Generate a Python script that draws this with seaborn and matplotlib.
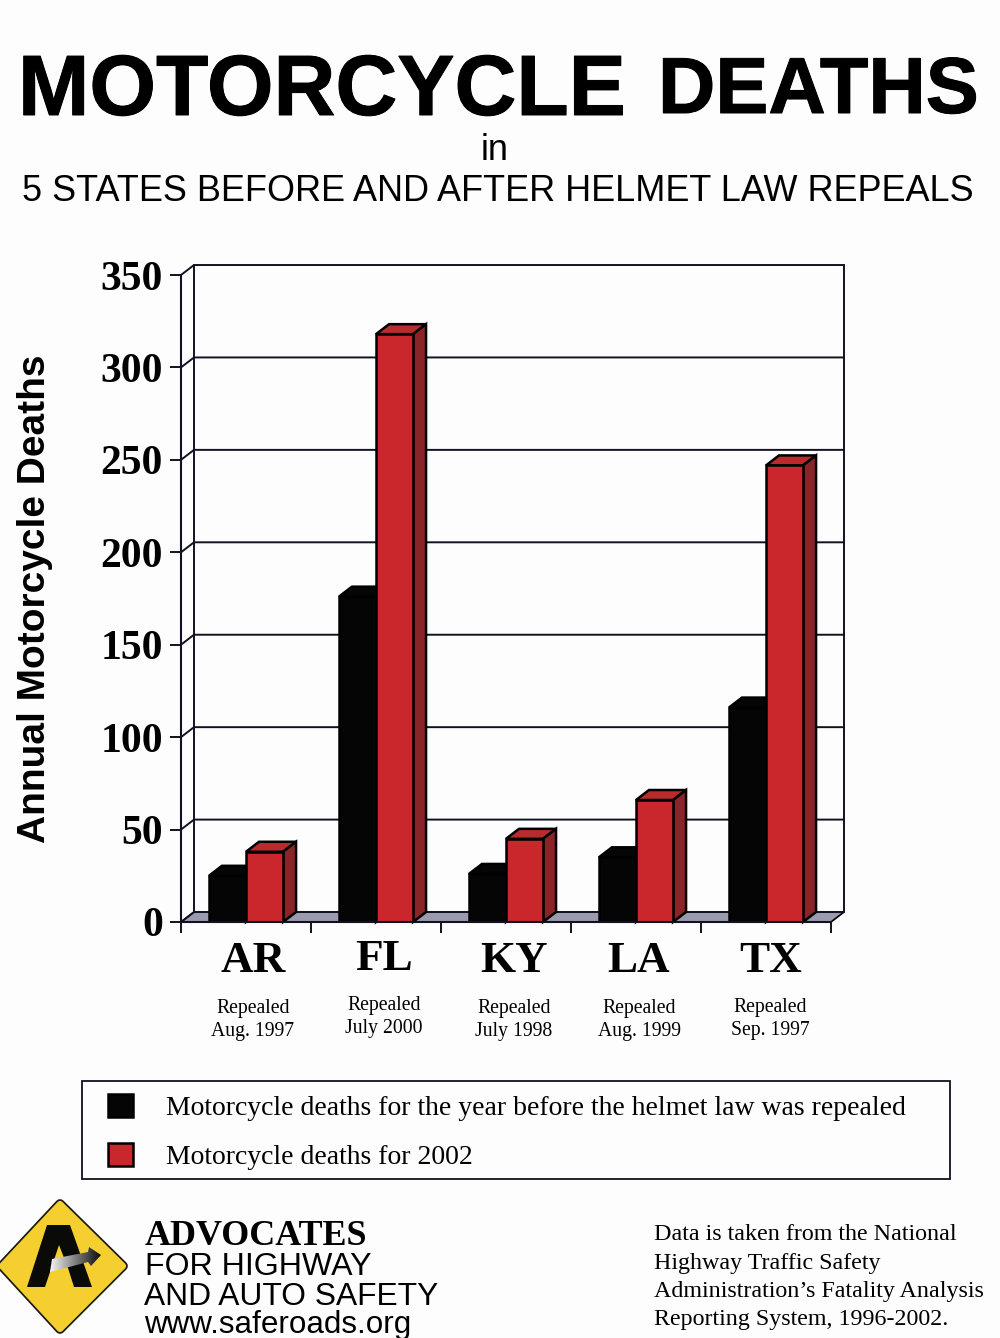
import matplotlib
matplotlib.use('Agg')
import matplotlib.patheffects as pe
import matplotlib.pyplot as plt
import numpy as np
import pandas as pd
import seaborn as sns
from matplotlib.patches import Polygon, Rectangle
from matplotlib.transforms import ScaledTranslation

states = ['AR', 'FL', 'KY', 'LA', 'TX']
repealed = ['Repealed\nAug. 1997', 'Repealed\nJuly 2000', 'Repealed\nJuly 1998',
            'Repealed\nAug. 1999', 'Repealed\nSep. 1997']
before_repeal = [25, 176, 26, 35, 116]
deaths_2002 = [38, 318, 45, 66, 247]
series_names = ['Motorcycle deaths for the year before the helmet law was repealed',
                'Motorcycle deaths for 2002']
y_ticks = [0, 50, 100, 150, 200, 250, 300, 350]

BLACK = '#050505'
RED = '#c9272c'
RED_TOP = '#b82c2e'
RED_SIDE = '#8b2428'
FLOOR = '#9a9cae'
SERIF = 'Liberation Serif'
SANS = 'Liberation Sans'

# depth of the fake 3d look, in data units (13px / 10px on the page)
DX = 0.1
DY = 5.4

sns.set_theme(style='ticks')
plt.rcParams['font.family'] = [SANS, 'DejaVu Sans']

df = pd.DataFrame({
    'state': states * 2,
    'series': [series_names[0]] * 5 + [series_names[1]] * 5,
    'deaths': before_repeal + deaths_2002,
})

fig = plt.figure(figsize=(10, 13.38), dpi=100, facecolor='#fdfdfe')
ax = fig.add_axes([0.181, 1 - 922 / 1338, 0.65, 647 / 1338])
ax.patch.set_alpha(0)

sns.barplot(data=df, x='state', y='deaths', hue='series', palette=[BLACK, RED], saturation=1,
            width=0.57, gap=0, edgecolor='black', linewidth=1.8, ax=ax, zorder=3)
ax.set_xlim(-0.5, 4.5)
ax.set_ylim(0, 350)

# back wall, floor, gridlines
ax.add_patch(Polygon([(-0.5, 0), (4.5, 0), (4.5 + DX, DY), (-0.5 + DX, DY)], closed=True,
                     facecolor=FLOOR, edgecolor='black', lw=1.2, zorder=1, clip_on=False))
for t in y_ticks:
    ax.plot([-0.5, -0.5 + DX, 4.5 + DX], [t, t + DY, t + DY], color='#111122', lw=1.4,
            zorder=1.5, clip_on=False)
ax.plot([-0.5 + DX] * 2, [DY, 350 + DY], color='#111122', lw=1.4, zorder=1.5, clip_on=False)
ax.plot([4.5 + DX] * 2, [DY, 350 + DY], color='#111122', lw=1.4, zorder=1.5, clip_on=False)

# tops and sides on the seaborn bars
for k, container in enumerate(ax.containers):
    top_col = BLACK if k == 0 else RED_TOP
    side_col = BLACK if k == 0 else RED_SIDE
    for bar in container:
        x0, w, h = bar.get_x(), bar.get_width(), bar.get_height()
        bar.set_zorder(3 + 2 * k)
        ax.add_patch(Polygon([(x0, h), (x0 + w, h), (x0 + w + DX, h + DY), (x0 + DX, h + DY)],
                             closed=True, facecolor=top_col, edgecolor='black', lw=1.8,
                             zorder=2.5 + 2 * k, clip_on=False))
        ax.add_patch(Polygon([(x0 + w, 0), (x0 + w + DX, DY), (x0 + w + DX, h + DY), (x0 + w, h)],
                             closed=True, facecolor=side_col, edgecolor='black', lw=1.8,
                             zorder=2.5 + 2 * k, clip_on=False))

sns.despine(ax=ax)
ax.spines['left'].set_linewidth(1.5)
ax.spines['left'].set_color('#111122')
ax.spines['bottom'].set_linewidth(1.5)
ax.spines['bottom'].set_color('#111122')
ax.spines['left'].set_zorder(9)
ax.spines['bottom'].set_zorder(9)

ax.set_yticks(y_ticks)
ax.set_yticklabels(y_ticks, family=SERIF, fontweight='bold', fontsize=30, color='black')
ax.tick_params(axis='y', length=8, width=1.4, pad=5, color='#111122')
ax.set_xticks(range(5), states, family=SERIF, fontweight='bold', fontsize=32.5, color='black')
ax.set_xticks(np.arange(-0.5, 5), minor=True)
ax.tick_params(axis='x', which='major', length=0, pad=14)
ax.tick_params(axis='x', which='minor', length=8, width=1.4, color='#111122')

ax.set_xlabel('')
ax.set_ylabel('Annual Motorcycle Deaths', fontweight='bold', fontsize=28, color='black')
ax.yaxis.set_label_coords(-0.197, 0.5)

# labels sit a bit off centre on the original
label_shift_x = [7, 8, 8, 3, 5]
label_shift_y = [0, 2, 0, 0, 0]
for lab, sx, sy in zip(ax.get_xticklabels(), label_shift_x, label_shift_y):
    lab.set_transform(lab.get_transform() + ScaledTranslation(sx / 100, sy / 100, fig.dpi_scale_trans))

rep_x = [7, 8, 8, 3, 4]
rep_y = [-98, -95, -98, -98, -97]
for i, txt in enumerate(repealed):
    ax.annotate(txt, (i, 0), xytext=(rep_x[i], rep_y[i]), textcoords='offset pixels',
                ha='center', va='center', family=SERIF, fontsize=14.2, color='black',
                linespacing=1.28, annotation_clip=False)

sns.move_legend(ax, 'upper left', bbox_to_anchor=(0.1075, 1 - 1094 / 1338),
                bbox_transform=fig.transFigure, title=None, frameon=False, labelcolor='black',
                prop={'family': SERIF, 'size': 20}, handlelength=0.9, handleheight=0.9,
                handletextpad=1.19, labelspacing=0.8, borderpad=0, borderaxespad=0)

# page layer in pixel coordinates for titles, legend box and logo
page = fig.add_axes([0, 0, 1, 1], zorder=-1)
page.set_xlim(0, 1000)
page.set_ylim(1338, 0)
page.axis('off')

heavy = [pe.withStroke(linewidth=0.7, foreground='black')]
page.text(18, 115, 'MOTORCYCLE', fontweight='bold', fontsize=61.7, va='baseline', color='black',
          path_effects=heavy)
page.text(658, 113, 'DEATHS', fontweight='bold', fontsize=57.2, va='baseline', color='black',
          path_effects=heavy)
page.text(495, 160, 'in', fontsize=26, ha='center', va='baseline', color='black')
page.text(498, 201, '5 STATES BEFORE AND AFTER HELMET LAW REPEALS', fontsize=25.9, ha='center',
          va='baseline', color='black')

page.add_patch(Rectangle((82, 1081), 868, 98, facecolor='none', edgecolor='#111122', lw=1.3))

# logo
diamond = [(60, 1204), (123, 1266), (60, 1329), (2, 1266)]
page.add_patch(Polygon(diamond, closed=True, facecolor='#1a1a12', edgecolor='#1a1a12', lw=7,
                       joinstyle='round'))
page.add_patch(Polygon(diamond, closed=True, facecolor='#f4cf2f', edgecolor='#f4cf2f', lw=4.5,
                       joinstyle='round'))
page.add_patch(Polygon([(27, 1287), (47, 1225), (70, 1225), (92, 1287), (74, 1287), (68, 1268),
                        (59, 1245), (50, 1272), (45, 1287)], closed=True, facecolor='#0a0a08',
                       edgecolor='none'))
arrow = Polygon([(52, 1259), (88, 1252), (89, 1247), (101, 1255), (91, 1266), (88, 1262), (50, 1272)],
                closed=True, transform=page.transData, facecolor='none', edgecolor='none')
page.add_patch(arrow)
grad = page.imshow(np.linspace(0, 1, 64).reshape(1, -1), cmap='gray_r', vmin=-0.05, vmax=1.05,
                   extent=(50, 101, 1272, 1247), aspect='auto', zorder=3)
grad.set_clip_path(arrow)
page.set_xlim(0, 1000)
page.set_ylim(1338, 0)

page.text(145, 1245, 'ADVOCATES', family=SERIF, fontweight='bold', fontsize=25.9, va='baseline', color='black')
page.text(145, 1275, 'FOR HIGHWAY', fontsize=23.1, va='baseline', color='black')
page.text(144, 1305, 'AND AUTO SAFETY', fontsize=22.9, va='baseline', color='black')
page.text(144, 1333, 'www.saferoads.org', fontsize=22.6, va='baseline', color='black')

note_lines = ['Data is taken from the National', 'Highway Traffic Safety',
              'Administration\u2019s Fatality Analysis', 'Reporting System, 1996-2002.']
note_y = [1240, 1269, 1297, 1325]
for line, y in zip(note_lines, note_y):
    page.text(654, y, line, family=SERIF, fontsize=17.25, va='baseline', color='black')

fig.savefig('out.png', dpi=100, facecolor=fig.get_facecolor())
